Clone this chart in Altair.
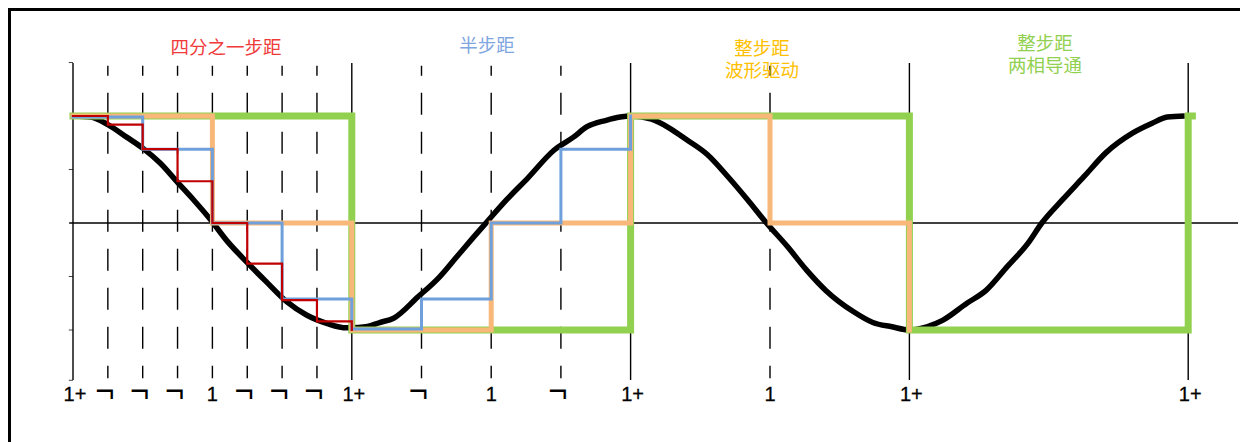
import altair as alt
import pandas as pd

# x unit = one quarter step (8 units = one full step), y unit = phase current (+1 / -1)
curve_u = [0, 0.5, 1.0, 1.55, 2.0, 2.5, 3.0, 3.45, 3.95, 4.4, 5.0, 5.55, 6.15, 6.7, 7.3, 7.85,
           8.0, 8.4, 8.8, 9.2, 9.9, 10.5, 11.0, 11.5, 11.85, 12.45, 13.05, 13.8, 14.35, 14.75,
           15.3, 15.7, 16.0, 16.6, 17.1, 17.6, 18.2, 18.8, 19.35, 19.9, 20.5, 21.05, 21.6, 22.4,
           22.95, 23.5, 24.0, 24.5, 24.95, 25.65, 26.2, 26.8, 27.4, 27.8, 28.4, 29.0, 29.65,
           30.4, 30.95, 31.4, 31.9]
curve_v = [1.0, 0.99, 0.92, 0.80, 0.70, 0.56, 0.38, 0.22, 0.03, -0.16, -0.37, -0.55, -0.74,
           -0.86, -0.94, -0.98, -0.98, -0.97, -0.93, -0.89, -0.69, -0.51, -0.32, -0.13, 0.0,
           0.22, 0.42, 0.68, 0.80, 0.90, 0.96, 0.99, 1.0, 0.97, 0.89, 0.78, 0.64, 0.43, 0.22,
           0.0, -0.22, -0.44, -0.63, -0.83, -0.93, -0.97, -1.0, -0.97, -0.91, -0.75, -0.63,
           -0.41, -0.19, 0.0, 0.22, 0.43, 0.66, 0.84, 0.93, 0.99, 1.0]

quarter_u = [0, 1, 2, 3, 4, 5, 6, 7, 8]
quarter_v = [1.0, 0.92, 0.69, 0.39, 0.0, -0.38, -0.72, -0.92, -1.0]
half_u = [0, 2, 4, 6, 8, 10, 12, 14, 16]
half_v = [0.99, 0.69, 0.0, -0.71, -0.99, -0.71, 0.0, 0.69, 1.0]
wave_u = [0, 4, 8, 12, 16, 20, 24]
wave_v = [1, 0, -1, 0, 1, 0, -1]
two_u = [0, 8, 16, 24, 32, 32.12]
two_v = [1, -1, 1, -1, 1, 1]

tick_u = [0, 1, 2, 3, 4, 5, 6, 7, 8, 10, 12, 14, 16, 20, 24, 32]
tick_text = ["1+", "¬", "¬", "¬", "1", "¬", "¬", "¬", "1+", "¬", "1", "¬", "1+", "1", "1+", "1+"]
solid_u = [0, 8, 16, 24, 32]
dashed_u = [1, 2, 3, 4, 5, 6, 7, 10, 12, 14, 20]
ytick_v = [1.5, 0.5, -0.5, -1.0, -1.47]

ann_text = ["四分之一步距", "半步距", "整步距\n波形驱动", "整步距\n两相导通"]
ann_u = [4.39, 11.88, 19.77, 27.89]
ann_v = [1.72, 1.738, 1.71, 1.757]
ann_group = ["quarter", "half", "wave", "two"]

W, H = 1232, 434
xs = alt.Scale(domain=[-1.86514, 33.4864], nice=False, zero=False)
ys = alt.Scale(domain=[-2.04673, 2.00935], nice=False, zero=False)
X = lambda f: alt.X(f, type="quantitative", scale=xs, axis=None)
Y = lambda f: alt.Y(f, type="quantitative", scale=ys, axis=None)

one = pd.DataFrame({"a": [0]})
frame_left = alt.Chart(one).mark_rule(color="black", strokeWidth=3).encode(
    x=alt.value(1.5), y=alt.value(0), y2=alt.value(H))
frame_top = alt.Chart(one).mark_rule(color="black", strokeWidth=3).encode(
    y=alt.value(1.5), x=alt.value(0), x2=alt.value(W))

axis_df = pd.DataFrame({"u": [-0.11], "u2": [33.43], "v": [0]})
xaxis = alt.Chart(axis_df).mark_rule(color="black", strokeWidth=1.3).encode(
    x=X("u"), x2="u2", y=Y("v"))

yt_df = pd.DataFrame({"v": ytick_v, "u": -0.12, "u2": 0.0})
yticks = alt.Chart(yt_df).mark_rule(color="#444", strokeWidth=1).encode(
    x=X("u"), x2="u2", y=Y("v"))

solid_df = pd.DataFrame({"u": solid_u, "top": 1.495, "bot": -1.467})
solid = alt.Chart(solid_df).mark_rule(color="black", strokeWidth=1.4).encode(
    x=X("u"), y=Y("top"), y2="bot")

dash_df = pd.DataFrame({"u": dashed_u, "top": 1.47, "bot": -1.45})
dashed = alt.Chart(dash_df).mark_rule(color="black", strokeWidth=1.4,
                                      strokeDash=[22, 17], strokeDashOffset=12).encode(
    x=X("u"), y=Y("top"), y2="bot")

curve = alt.Chart(pd.DataFrame({"u": curve_u, "v": curve_v})).mark_line(
    color="black", strokeWidth=5.5, interpolate="monotone", strokeJoin="round").encode(
    x=X("u"), y=Y("v"))

def step(u, v, color, w):
    return alt.Chart(pd.DataFrame({"u": u, "v": v})).mark_line(
        color=color, strokeWidth=w, interpolate="step-after", strokeCap="square").encode(
        x=X("u"), y=Y("v"))

green = step(two_u, two_v, "#92D050", 7)
orange = step(wave_u, wave_v, "#F8B87A", 5)
blue = step(half_u, half_v, "#6FA0DC", 3)
red = step(quarter_u, quarter_v, "#C00000", 2.2)

lab_df = pd.DataFrame({"u": tick_u, "t": tick_text, "v": -1.6636})
txt = dict(font="Liberation Sans", baseline="alphabetic", align="center", color="black")
lab_plus = alt.Chart(lab_df).transform_filter(alt.datum.t == "1+").mark_text(
    fontSize=20, dx=2, stroke="black", strokeWidth=0.3, **txt).encode(
    x=X("u"), y=Y("v"), text="t:N")
lab_one = alt.Chart(lab_df).transform_filter(alt.datum.t == "1").mark_text(
    fontSize=20, stroke="black", strokeWidth=0.3, **txt).encode(
    x=X("u"), y=Y("v"), text="t:N")
lab_not = alt.Chart(lab_df).transform_filter(alt.datum.t == "¬").mark_text(
    fontSize=33, dx=-3, dy=1, **txt).encode(x=X("u"), y=Y("v"), text="t:N")

ann_df = pd.DataFrame({"u": ann_u, "v": ann_v, "t": ann_text, "g": ann_group})
ann = alt.Chart(ann_df).mark_text(
    font="Noto Sans CJK SC", fontSize=18.5, baseline="top", align="center",
    lineBreak="\n", lineHeight=22).encode(
    x=X("u"), y=Y("v"), text="t:N",
    color=alt.Color("g:N", legend=None,
                    scale=alt.Scale(domain=["quarter", "half", "wave", "two"],
                                    range=["#F03A3A", "#7EA6E0", "#FFC000", "#92D050"])))

chart = alt.layer(
    frame_left, frame_top, xaxis, yticks, dashed, solid, curve,
    green, orange, blue, red, lab_plus, lab_one, lab_not, ann
).properties(
    width=W, height=H, padding=0, autosize=alt.AutoSizeParams(type="none")
).configure_view(stroke=None)

chart.save("out.html", embed_options={"renderer": "svg", "actions": False})
